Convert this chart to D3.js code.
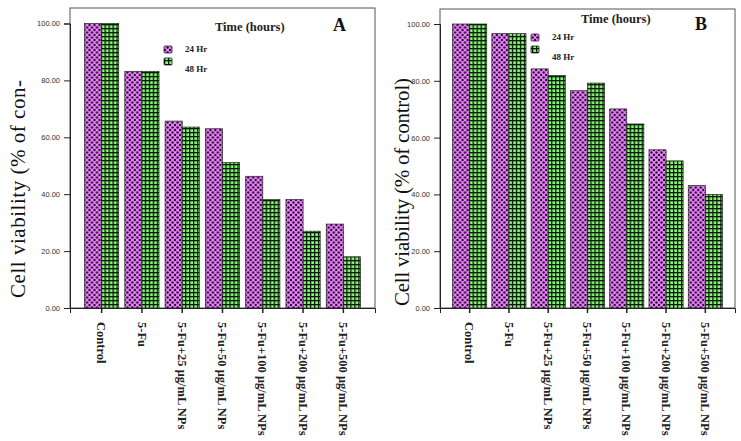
<!DOCTYPE html>
<html>
<head>
<meta charset="utf-8">
<script src="https://cdn.jsdelivr.net/npm/d3@7"></script>
<style>
  body { margin: 0; background: #fff; }
  svg { display: block; }
</style>
</head>
<body>
<div id="chart"></div>
<script>
// categories shared by both panels
const categories = ["Control", "5-Fu", "5-Fu+25 μg/mL NPs", "5-Fu+50 μg/mL NPs",
  "5-Fu+100 μg/mL NPs", "5-Fu+200 μg/mL NPs", "5-Fu+500 μg/mL NPs"];
const seriesNames = ["24 Hr", "48 Hr"];
const yTicks = [0, 20, 40, 60, 80, 100];

// panel A values
const a24 = [100, 83.2, 65.7, 63.0, 46.3, 38.1, 29.5];
const a48 = [100, 83.2, 63.6, 51.1, 38.1, 27.0, 18.0];
// panel B values
const b24 = [100, 96.6, 84.2, 76.5, 70.1, 55.7, 43.1];
const b48 = [100, 96.6, 81.9, 79.2, 64.8, 51.8, 40.0];

const width = 741, height = 441;

const svg = d3.select("#chart").append("svg")
    .attr("width", width)
    .attr("height", height);

// fill patterns
const defs = svg.append("defs");
const p1 = defs.append("pattern").attr("id", "pat24")
    .attr("patternUnits", "userSpaceOnUse").attr("width", 5).attr("height", 5);
p1.append("rect").attr("width", 5).attr("height", 5).attr("fill", "#ec86fb");
[[0, 0], [5, 0], [0, 5], [5, 5], [2.5, 2.5]].forEach(c => {
    p1.append("circle").attr("cx", c[0]).attr("cy", c[1]).attr("r", 1.2).attr("fill", "#2a0634");
});
const p2 = defs.append("pattern").attr("id", "pat48")
    .attr("patternUnits", "userSpaceOnUse").attr("width", 4).attr("height", 4);
p2.append("rect").attr("width", 4).attr("height", 4).attr("fill", "#8af57a");
p2.append("rect").attr("width", 4).attr("height", 1.3).attr("fill", "#071a07");
p2.append("rect").attr("width", 1.3).attr("height", 4).attr("fill", "#071a07");

const fills = ["url(#pat24)", "url(#pat48)"];

function drawPanel(p) {
    const g = svg.append("g");

    const x = d3.scaleBand()
        .domain(categories)
        .range([p.left, p.right])
        .paddingInner(p.padInner)
        .paddingOuter(p.padOuter);

    const xSub = d3.scaleBand()
        .domain(seriesNames)
        .range([0, x.bandwidth()]);

    const y = d3.scaleLinear()
        .domain([0, 100])
        .range([p.bottom, p.y100]);

    // frame
    g.append("rect")
        .attr("x", p.left).attr("y", p.top)
        .attr("width", p.right - p.left).attr("height", p.bottom - p.top)
        .attr("fill", "none").attr("stroke", "#555").attr("stroke-width", 1);

    // bars
    const rows = categories.map((c, i) => ({cat: c, vals: [p.v24[i], p.v48[i]]}));
    g.selectAll(".grp")
        .data(rows)
        .enter().append("g")
        .attr("transform", d => `translate(${x(d.cat)},0)`)
        .selectAll("rect")
        .data(d => d.vals.map((v, k) => ({s: seriesNames[k], v: v, k: k})))
        .enter().append("rect")
            .attr("x", d => xSub(d.s))
            .attr("y", d => y(d.v))
            .attr("width", xSub.bandwidth())
            .attr("height", d => y(0) - y(d.v))
            .attr("fill", d => fills[d.k])
            .attr("stroke", "#222")
            .attr("stroke-width", 0.7);

    // y axis
    const yAxis = g.append("g")
        .attr("transform", `translate(${p.left},0)`)
        .call(d3.axisLeft(y).tickValues(yTicks).tickFormat(d3.format(".2f")).tickSize(6));
    yAxis.select(".domain").attr("stroke", "#222");
    yAxis.selectAll(".tick line").attr("stroke", "#222");
    yAxis.selectAll("text")
        .attr("font-family", "Liberation Sans, Arial, sans-serif")
        .attr("font-size", 7.5).attr("fill", "#333").attr("dx", -1);

    // x axis
    const xAxis = g.append("g")
        .attr("transform", `translate(0,${p.bottom})`)
        .call(d3.axisBottom(x).tickSize(5));
    xAxis.select(".domain").attr("stroke", "#222");
    xAxis.selectAll(".tick line").attr("stroke", "#222").attr("stroke-width", 1.5);
    xAxis.selectAll("text")
        .attr("font-family", "Liberation Serif, Times New Roman, serif")
        .attr("font-size", 12.5)
        .attr("font-weight", "bold")
        .attr("fill", "#222")
        .attr("text-anchor", "start")
        .attr("transform", "rotate(90)")
        .attr("x", 14)
        .attr("y", 0)
        .attr("dy", "0.35em");

    // y title
    g.append("text")
        .attr("transform", `translate(${p.titleX},${p.titleY}) rotate(-90)`)
        .attr("text-anchor", "middle")
        .attr("font-family", "Liberation Serif, Times New Roman, serif")
        .attr("font-size", 21)
        .attr("fill", "#111")
        .attr("textLength", p.titleLen)
        .attr("lengthAdjust", "spacing")
        .text(p.title);

    // legend
    g.append("text")
        .attr("x", p.legTitleX).attr("y", p.legTitleY)
        .attr("font-family", "Liberation Serif, Times New Roman, serif")
        .attr("font-size", 12.5).attr("font-weight", "bold").attr("fill", "#222")
        .text("Time (hours)");
    g.append("text")
        .attr("x", p.letterX).attr("y", p.letterY)
        .attr("font-family", "Liberation Serif, Times New Roman, serif")
        .attr("font-size", 18).attr("font-weight", "bold").attr("fill", "#111")
        .text(p.letter);
    seriesNames.forEach((s, k) => {
        g.append("rect")
            .attr("x", p.swX).attr("y", p.swY + k * 12)
            .attr("width", 8).attr("height", 7).attr("rx", 1)
            .attr("fill", fills[k]).attr("stroke", "#222").attr("stroke-width", 0.8);
        g.append("text")
            .attr("x", p.swX + 21).attr("y", p.labY + k * 20)
            .attr("font-family", "Liberation Serif, Times New Roman, serif")
            .attr("font-size", 9).attr("font-weight", "bold").attr("fill", "#222")
            .text(s);
    });
}

drawPanel({
    v24: a24, v48: a48,
    left: 70, right: 375, top: 8, bottom: 308, y100: 23.5,
    padInner: 0.15, padOuter: 0.36,
    title: "Cell viability (% of con-", titleX: 25, titleY: 189, titleLen: 218,
    legTitleX: 215, legTitleY: 31, letter: "A", letterX: 333, letterY: 31,
    swX: 164, swY: 46, labY: 52
});

drawPanel({
    v24: b24, v48: b48,
    left: 440, right: 735, top: 9, bottom: 308, y100: 24,
    padInner: 0.13, padOuter: 0.32,
    title: "Cell viability (% of control)", titleX: 409, titleY: 192, titleLen: 228,
    legTitleX: 581, legTitleY: 23, letter: "B", letterX: 695, letterY: 30,
    swX: 531, swY: 34, labY: 40
});
</script>
</body>
</html>
